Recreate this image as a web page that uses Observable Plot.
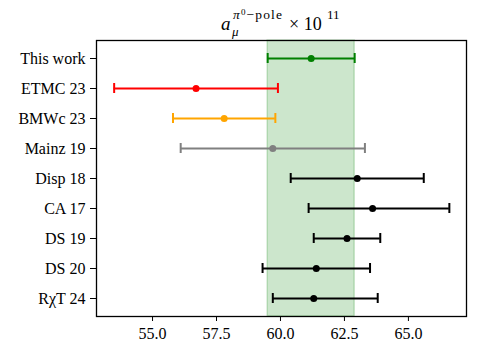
<!DOCTYPE html>
<html>
<head>
<meta charset="utf-8">
<script src="https://cdn.jsdelivr.net/npm/d3@7"></script>
<script src="https://cdn.jsdelivr.net/npm/@observablehq/plot@0.6"></script>
<style>
  html, body { margin: 0; padding: 0; background: white; }
  svg, svg text, svg tspan { font-family: "Liberation Serif", serif !important; }
</style>
</head>
<body>
<div id="chart"></div>
<script>
const names   = ["This work", "ETMC 23", "BMWc 23", "Mainz 19", "Disp 18", "CA 17", "DS 19", "DS 20", "RχT 24"];
const centers = [61.2, 56.7, 57.8, 59.7, 63.0, 63.6, 62.6, 61.4, 61.3];
const lows    = [59.5, 53.5, 55.8, 56.1, 60.4, 61.1, 61.3, 59.3, 59.7];
const highs   = [62.9, 59.9, 59.8, 63.3, 65.6, 66.6, 63.9, 63.5, 63.8];
const colors  = ["green", "red", "orange", "gray", "black", "black", "black", "black", "black"];
const xTicks  = [55.0, 57.5, 60.0, 62.5, 65.0];
const xDomain = [52.81, 67.27];

const data = names.map((n, i) => ({name: n, c: centers[i], lo: lows[i], hi: highs[i], color: colors[i]}));
const band = [{lo: lows[0], hi: highs[0]}];

const chart = Plot.plot({
  width: 478,
  height: 354,
  marginTop: 40,
  marginBottom: 38,
  marginLeft: 96,
  marginRight: 12,
  style: {fontFamily: "Liberation Serif", fontSize: "16px", color: "black", background: "white"},
  x: {domain: xDomain, ticks: xTicks, tickFormat: d => d.toFixed(1), tickSize: 5, tickPadding: 6, label: null},
  y: {type: "band", domain: names, padding: 0, label: null, tickSize: 6, tickPadding: 5},
  color: {type: "identity"},
  marks: [
    Plot.rect(band, {x1: "lo", x2: "hi", fill: "green", fillOpacity: 0.2, stroke: "green", strokeOpacity: 0.2, strokeWidth: 1.5}),
    Plot.ruleY(data, {y: "name", x1: "lo", x2: "hi", stroke: "color", strokeWidth: 2}),
    Plot.tickX(data, {y: "name", x: "lo", stroke: "color", strokeWidth: 2, insetTop: 10, insetBottom: 10}),
    Plot.tickX(data, {y: "name", x: "hi", stroke: "color", strokeWidth: 2, insetTop: 10, insetBottom: 10}),
    Plot.dot(data, {y: "name", x: "c", fill: "color", r: 3.5}),
    Plot.frame({stroke: "black", strokeWidth: 1.3})
  ]
});

document.getElementById("chart").appendChild(chart);

// Title with math-style super/subscripts, pieces placed explicitly
const svg = d3.select(chart);
const g = svg.append("g")
  .attr("fill", "black")
  .attr("text-anchor", "start");
g.append("text").attr("x", 221).attr("y", 30).attr("font-size", 19).attr("font-style", "italic").text("a");
g.append("text").attr("x", 232).attr("y", 36).attr("font-size", 13).attr("font-style", "italic").text("μ");
const sup = g.append("text").attr("x", 233).attr("y", 19).attr("font-size", 13.5)
  .attr("textLength", 49).attr("lengthAdjust", "spacing");
sup.append("tspan").attr("font-style", "italic").text("π");
sup.append("tspan").attr("font-size", 9).attr("dy", -4).text("0");
sup.append("tspan").attr("dy", 4).text("−pole");
g.append("text").attr("x", 289).attr("y", 30).attr("font-size", 18).text("× 10");
g.append("text").attr("x", 327).attr("y", 19).attr("font-size", 13).text("11");
</script>
</body>
</html>
